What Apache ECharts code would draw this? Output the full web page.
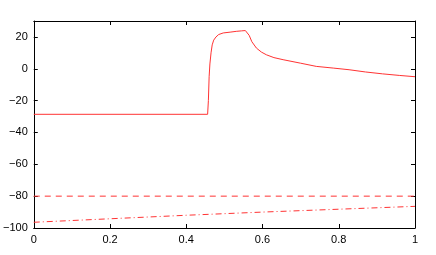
<!DOCTYPE html>
<html><head><meta charset="utf-8">
<script src="https://cdn.jsdelivr.net/npm/echarts@6/dist/echarts.min.js"></script>
<style>html,body{margin:0;padding:0;background:#fff}#c{width:436px;height:255px}</style>
</head><body><div id="c"></div>
<script>
const xTicks = [0, 0.2, 0.4, 0.6, 0.8, 1];
const yTicks = [-100, -80, -60, -40, -20, 0, 20];
const solidX = [0, 0.456, 0.458, 0.460, 0.462, 0.465, 0.468, 0.472, 0.478, 0.485, 0.497, 0.515, 0.531, 0.545, 0.555, 0.559, 0.565, 0.572, 0.584, 0.597, 0.61, 0.63, 0.654, 0.7, 0.741, 0.787, 0.827, 0.87, 0.915, 0.96, 1];
const solidY = [-28.6, -28.6, -20, -5, 3, 10, 15, 18, 20, 21.5, 22.5, 23, 23.5, 23.8, 24, 23.8, 21, 17, 13, 10.5, 8.8, 7, 5.7, 3.5, 1.5, 0.4, -0.6, -2, -3.2, -4.2, -5];
const dashedX = [0, 1];
const dashedY = [-80, -80];
const dashDotX = [0, 0.2, 0.4, 0.6, 0.8, 1];
const dashDotY = [-96.4, -94.2, -92, -90, -88.2, -86.4];

const zip = (a, b) => a.map((v, i) => [v, b[i]]);
const fmt = v => String(v).replace('-', '\u2212');
const font = {fontFamily: 'Liberation Sans, Arial, sans-serif', fontSize: 11, color: '#000'};
const line = {show: true, onZero: false, lineStyle: {color: '#000', width: 1}};
const tick = {show: true, inside: true, length: 4, lineStyle: {color: '#000', width: 1}};

const chart = echarts.init(document.getElementById('c'), null, {renderer: 'canvas'});
chart.setOption({
  animation: false,
  grid: {left: 33, right: 21, top: 21, bottom: 27, containLabel: false},
  xAxis: [
    {type: 'value', min: 0, max: 1, interval: 0.2, position: 'bottom', axisLine: line, axisTick: tick,
     splitLine: {show: false}, axisLabel: Object.assign({margin: 6, formatter: v => xTicks.includes(+v.toFixed(2)) ? fmt(+v.toFixed(2)) : ''}, font)},
    {type: 'value', min: 0, max: 1, interval: 0.2, position: 'top', axisLine: line, axisTick: tick,
     splitLine: {show: false}, axisLabel: {show: false}}
  ],
  yAxis: [
    {type: 'value', min: -100, max: 30, interval: 20, position: 'left', axisLine: line, axisTick: tick,
     splitLine: {show: false}, axisLabel: Object.assign({margin: 6, showMaxLabel: false, formatter: v => yTicks.includes(v) ? fmt(v) : ''}, font)},
    {type: 'value', min: -100, max: 30, interval: 20, position: 'right', axisLine: line, axisTick: tick,
     splitLine: {show: false}, axisLabel: {show: false}}
  ],
  series: [
    {type: 'line', data: zip(solidX, solidY), showSymbol: false, lineStyle: {color: '#ff3333', width: 1}},
    {type: 'line', data: zip(dashedX, dashedY), showSymbol: false, lineStyle: {color: '#ff3333', width: 1, type: [6, 5]}},
    {type: 'line', data: zip(dashDotX, dashDotY), showSymbol: false, lineStyle: {color: '#ff3333', width: 1, type: [6, 3, 1, 3]}}
  ]
});
</script></body></html>
